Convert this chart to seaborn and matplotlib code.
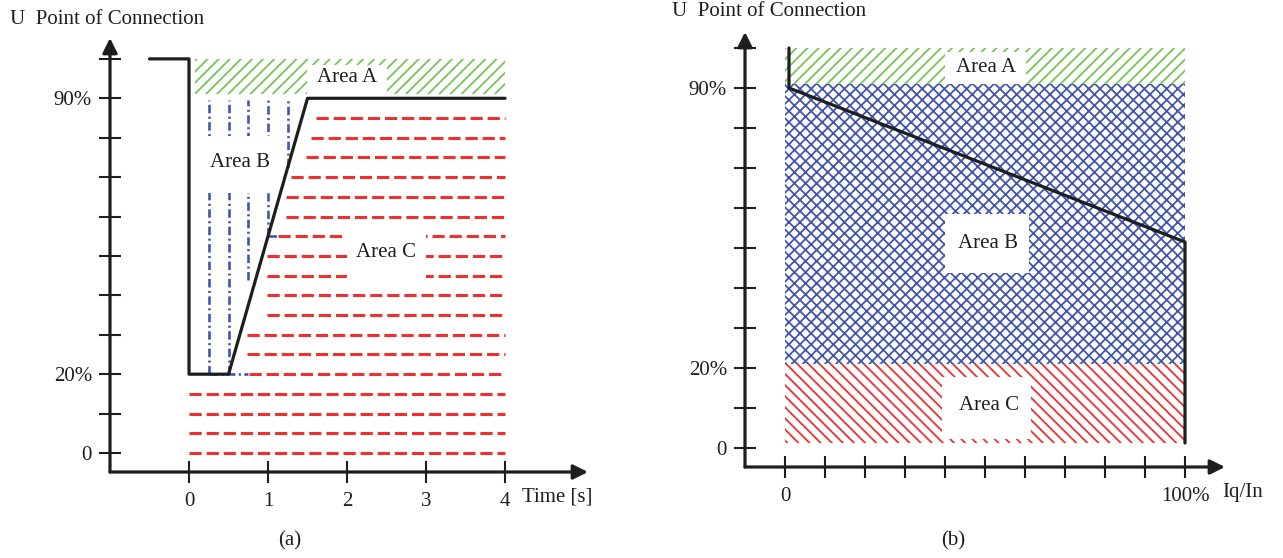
import numpy as np
import pandas as pd
import matplotlib
matplotlib.use("Agg")
import matplotlib.pyplot as plt
from matplotlib.patches import Rectangle
import seaborn as sns

# ---------------- panel (a): voltage at connection point vs. time ----------------
curve_t = [-0.5, 0.0, 0.0, 0.5, 1.5, 4.0]
curve_u = [100, 100, 20, 20, 90, 90]

# Area A band (green hatch)
band_a_t = [0.08, 4.0]
band_a_u = [91, 100]

# Area B: blue dash-dot verticals and short horizontal runs
b_times = [0.25, 0.5, 0.75, 1.0, 1.25]
b_bottom = [20, 20, 44, 55, 72.5]
b_top = 89.5
b_run_level = [20, 55]
b_run_start = [0.25, 1.0]
b_run_end = [0.75, 1.13]

# Area C: red dashed horizontals
c_levels = [0, 5, 10, 15, 20, 25, 30, 35, 40, 45, 50, 55, 60, 65, 70, 75, 80, 85]
c_start = [0, 0, 0, 0, 0.76, 0.73, 0.73, 0.99, 0.99, 0.99, 0.99, 1.13, 1.23,
           1.23, 1.29, 1.48, 1.54, 1.61]
c_end = 4.0

u_ticks = [0, 10, 20, 30, 40, 50, 60, 70, 80, 90, 100]
u_labels = {0: "0", 20: "20%", 90: "90%"}
t_ticks = [0, 1, 2, 3, 4]

# ---------------- panel (b): voltage vs. reactive current ----------------
iq_curve_x = [1, 1, 100, 100]
iq_curve_u = [100, 90, 51.5, 1.25]
zone_a = [91, 100]
zone_b = [21, 91]
zone_c = [1.25, 21]
iq_ticks = [0, 10, 20, 30, 40, 50, 60, 70, 80, 90, 100]
iq_labels = {0: "0", 100: "100%"}

GREEN = "#78c458"
BLUE = "#4356ad"
RED = "#ee3030"
INK = "#1e1e1e"

sns.set_theme(style="white")
plt.rcParams["font.family"] = ["Liberation Serif", "DejaVu Serif"]
plt.rcParams["hatch.linewidth"] = 1.3
FS = 15

W, H = 1283, 558
fig = plt.figure(figsize=(W / 100, H / 100), dpi=100)
fig.patch.set_facecolor("white")


def frac(x, y):
    return x / W, 1 - y / H


def axes_px(left, top, right, bottom):
    return fig.add_axes([left / W, 1 - bottom / H, (right - left) / W, (bottom - top) / H])


def style_axes(ax):
    for s in ax.spines.values():
        s.set_visible(False)
    ax.set_facecolor("none")
    arrow = dict(arrowstyle="-|>", color=INK, lw=2.3, mutation_scale=22,
                 shrinkA=0, shrinkB=0)
    ax.annotate("", xy=(0, 1), xytext=(0, 0), xycoords="axes fraction",
                arrowprops=arrow, zorder=6)
    ax.annotate("", xy=(1, 0), xytext=(0, 0), xycoords="axes fraction",
                arrowprops=arrow, zorder=6)
    ax.tick_params(axis="both", which="both", bottom=True, left=True, top=False,
                   right=False, direction="inout", length=16, width=1.5,
                   color=INK, labelsize=FS, labelcolor=INK)
    ax.tick_params(axis="y", pad=5)
    ax.tick_params(axis="x", pad=6.5)


def white_box(ax, x0, x1, y0, y1):
    ax.add_patch(Rectangle((x0, y0), x1 - x0, y1 - y0, facecolor="white",
                           edgecolor="none", zorder=3))


# ---------- panel (a) ----------
ax1 = axes_px(110, 38, 588, 472)
ax1.set_xlim(-1.0, 5.05)
ax1.set_ylim(-4.82, 105.3)
style_axes(ax1)
ax1.set_xticks(t_ticks)
ax1.set_xticklabels([str(t) for t in t_ticks])
ax1.set_yticks(u_ticks)
ax1.set_yticklabels([u_labels.get(u, "") for u in u_ticks])

ax1.fill_between(band_a_t, band_a_u[0], band_a_u[1], facecolor="none",
                 edgecolor=GREEN, hatch="///", linewidth=0, zorder=1)

ax1.hlines(c_levels, c_start, c_end, colors=RED, linewidth=2.2,
           linestyles=[(0, (4, 1.6))], zorder=2)
ax1.vlines(b_times, b_bottom, b_top, colors=BLUE, linewidth=1.9,
           linestyles=[(0, (3.2, 1.3, 0.8, 1.3))], zorder=2)
ax1.hlines(b_run_level, b_run_start, b_run_end, colors=BLUE, linewidth=1.9,
           linestyles=[(0, (3.2, 1.3, 0.8, 1.3))], zorder=2)

df_a = pd.DataFrame({"t": curve_t, "u": curve_u})
sns.lineplot(data=df_a, x="t", y="u", sort=False, estimator=None, color=INK,
             linewidth=2.3, ax=ax1, zorder=5)
ax1.set_xlabel("")
ax1.set_ylabel("")

white_box(ax1, 1.49, 2.5, 91, 98.5)
ax1.text(2.0, 95.2, "Area A", ha="center", va="center", fontsize=FS, color=INK, zorder=4)
white_box(ax1, 0.14, 1.13, 66, 80.5)
ax1.text(0.645, 73.6, "Area B", ha="center", va="center", fontsize=FS, color=INK, zorder=4)
white_box(ax1, 2.0, 3.0, 42.5, 57.5)
ax1.text(2.49, 51, "Area C", ha="center", va="center", fontsize=FS, color=INK, zorder=4)

# ---------- panel (b) ----------
ax2 = axes_px(745, 32, 1225, 467)
ax2.set_xlim(-10, 110)
ax2.set_ylim(-4.75, 104)
style_axes(ax2)
ax2.set_xticks(iq_ticks)
ax2.set_xticklabels([iq_labels.get(v, "") for v in iq_ticks])
ax2.set_yticks(u_ticks)
ax2.set_yticklabels([u_labels.get(u, "") for u in u_ticks])

span = [0, 100]
ax2.fill_between(span, zone_a[0], zone_a[1], facecolor="none", edgecolor=GREEN,
                 hatch="///", linewidth=0, zorder=1)
ax2.fill_between(span, zone_b[0], zone_b[1], facecolor="none", edgecolor=BLUE,
                 hatch="xxx", linewidth=0, zorder=1)
ax2.fill_between(span, zone_c[0], zone_c[1], facecolor="none", edgecolor=RED,
                 hatch="\\\\\\", linewidth=0, zorder=1)

df_b = pd.DataFrame({"iq": iq_curve_x, "u": iq_curve_u})
sns.lineplot(data=df_b, x="iq", y="u", sort=False, estimator=None, color=INK,
             linewidth=2.3, ax=ax2, zorder=5)
ax2.set_xlabel("")
ax2.set_ylabel("")

white_box(ax2, 40, 60.25, 91, 99)
ax2.text(50.25, 95.2, "Area A", ha="center", va="center", fontsize=FS, color=INK, zorder=4)
white_box(ax2, 40, 61, 43.75, 58.5)
ax2.text(50.75, 51, "Area B", ha="center", va="center", fontsize=FS, color=INK, zorder=4)
white_box(ax2, 39.25, 61.5, 2.25, 17.75)
ax2.text(51, 10.5, "Area C", ha="center", va="center", fontsize=FS, color=INK, zorder=4)

# ---------- figure-level text ----------
fig.text(*frac(10, 20), "U  Point of Connection", ha="left", va="center", fontsize=FS, color=INK)
fig.text(*frac(672, 11), "U  Point of Connection", ha="left", va="center", fontsize=FS, color=INK)
fig.text(*frac(522, 497), "Time [s]", ha="left", va="center", fontsize=FS, color=INK)
fig.text(*frac(1222, 493), "Iq/In", ha="left", va="center", fontsize=FS, color=INK)
fig.text(*frac(290, 541), "(a)", ha="center", va="center", fontsize=FS, color=INK)
fig.text(*frac(953, 541), "(b)", ha="center", va="center", fontsize=FS, color=INK)

fig.savefig("out.png", dpi=100, facecolor="white")
